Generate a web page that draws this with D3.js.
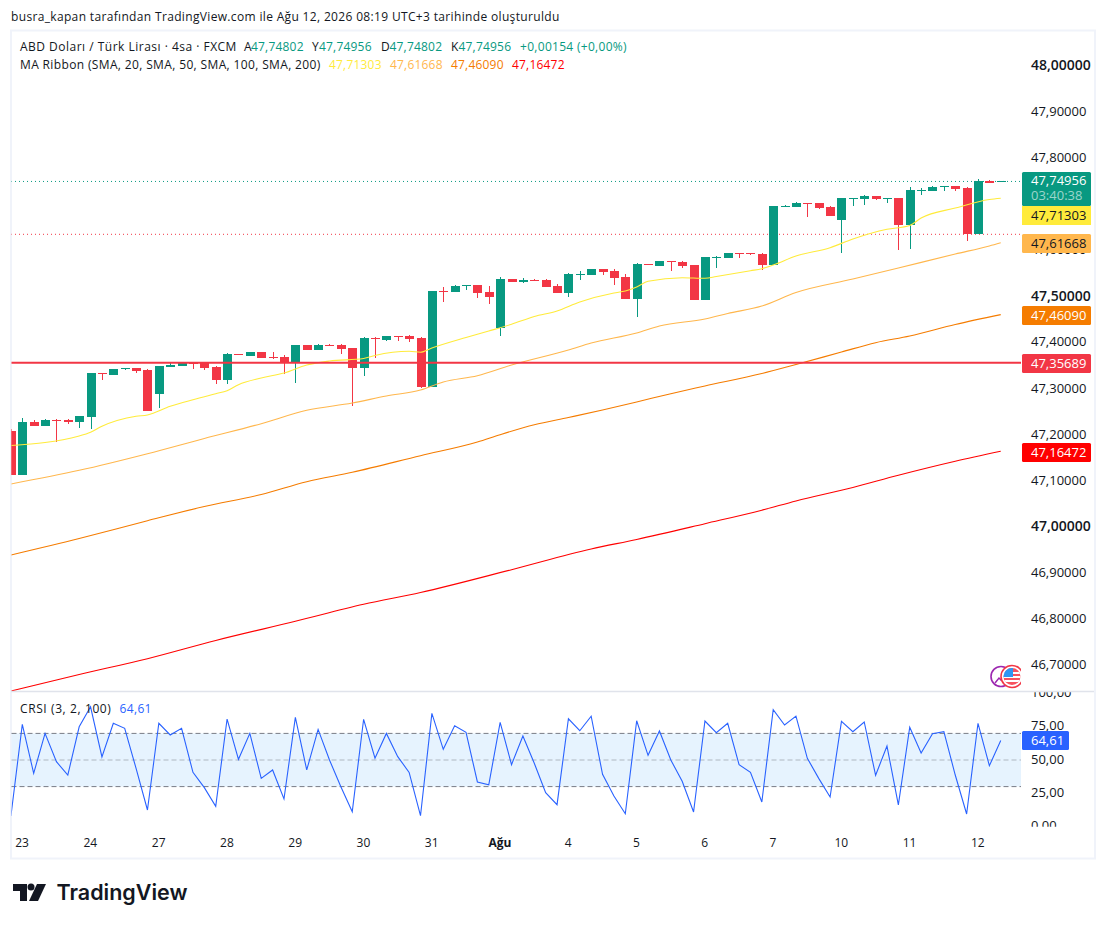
<!DOCTYPE html>
<html>
<head>
<meta charset="utf-8">
<script src="https://cdn.jsdelivr.net/npm/d3@7"></script>
<style>
html,body{margin:0;padding:0;background:#fff}
svg{display:block}
text{font-family:"Open Sans",sans-serif;font-size:12px;fill:#131722}
.domain{display:none}
</style>
</head>
<body>
<svg width="1106" height="925"></svg>
<script>
// bars start one before the "23" label, index -1
var opens = [47.2087,47.1134,47.2282,47.2195,47.2326,47.2326,47.2282,47.2391,47.3344,47.3301,47.3431,47.3453,47.3409,47.2889,47.3474,47.3496,47.3561,47.3561,47.3474,47.3192,47.3756,47.3713,47.3799,47.3691,47.3691,47.3561,47.3951,47.3843,47.3951,47.3951,47.3886,47.3453,47.4103,47.4059,47.4146,47.4146,47.4103,47.3041,47.5121,47.5099,47.5229,47.5251,47.5099,47.4319,47.5381,47.5316,47.5359,47.5359,47.5229,47.5078,47.5468,47.5468,47.5598,47.5555,47.5424,47.4948,47.5706,47.5663,47.5771,47.5750,47.5685,47.4926,47.5836,47.5836,47.5945,47.5945,47.5923,47.5685,47.6942,47.6942,47.7029,47.7029,47.6942,47.6661,47.7116,47.7116,47.7181,47.7116,47.7137,47.6552,47.7289,47.7289,47.7376,47.7397,47.7354,47.6356,47.7506,47.74802];
var highs = [47.2130,47.2369,47.2326,47.2347,47.2347,47.2347,47.2412,47.3344,47.3344,47.3431,47.3453,47.3453,47.3431,47.3496,47.3561,47.3583,47.3561,47.3561,47.3496,47.3778,47.3756,47.3799,47.3799,47.3799,47.3734,47.3951,47.3951,47.3973,47.3973,47.3973,47.3886,47.4124,47.4124,47.4146,47.4146,47.4168,47.4124,47.5121,47.5208,47.5251,47.5251,47.5251,47.5229,47.5424,47.5381,47.5403,47.5381,47.5381,47.5273,47.5511,47.5555,47.5598,47.5598,47.5598,47.5490,47.5728,47.5706,47.5771,47.5771,47.5771,47.5685,47.5858,47.5880,47.5945,47.5945,47.5945,47.5945,47.6964,47.6986,47.7051,47.7029,47.7029,47.6964,47.7137,47.7137,47.7202,47.7181,47.7137,47.7137,47.7376,47.7354,47.7397,47.7397,47.7397,47.7376,47.7549,47.7527,47.74956];
var lows = [47.1134,47.1134,47.2195,47.2195,47.1849,47.2239,47.2152,47.2130,47.3192,47.3301,47.3409,47.3344,47.2521,47.2586,47.3474,47.3496,47.3431,47.3409,47.3106,47.3106,47.3734,47.3713,47.3669,47.3648,47.3323,47.3127,47.3843,47.3843,47.3929,47.3756,47.2629,47.3279,47.3669,47.4038,47.4038,47.4016,47.3019,47.3041,47.4883,47.5099,47.5143,47.4969,47.4839,47.4146,47.5316,47.5294,47.5338,47.5208,47.5078,47.4991,47.5359,47.5468,47.5468,47.5251,47.4948,47.4558,47.5685,47.5663,47.5555,47.5620,47.4926,47.4926,47.5620,47.5836,47.5836,47.5901,47.5576,47.5685,47.6942,47.6942,47.6726,47.6899,47.6747,47.5945,47.6964,47.6986,47.7094,47.7029,47.6010,47.6031,47.7202,47.7289,47.7289,47.7289,47.6205,47.6356,47.7462,47.74802];
var closes = [47.1134,47.2282,47.2195,47.2326,47.2304,47.2282,47.2412,47.3344,47.3323,47.3431,47.3453,47.3388,47.2521,47.3496,47.3518,47.3561,47.3539,47.3453,47.3192,47.3756,47.3734,47.3799,47.3669,47.3669,47.3561,47.3951,47.3843,47.3951,47.3929,47.3864,47.3453,47.4103,47.4081,47.4146,47.4124,47.4081,47.3041,47.5121,47.5099,47.5229,47.5251,47.5078,47.4991,47.5381,47.5316,47.5359,47.5338,47.5208,47.5078,47.5490,47.5490,47.5598,47.5533,47.5403,47.4948,47.5706,47.5685,47.5771,47.5750,47.5663,47.4926,47.5858,47.5858,47.5945,47.5923,47.5923,47.5685,47.6964,47.6964,47.7029,47.7007,47.6921,47.6747,47.7137,47.7137,47.7181,47.7116,47.7137,47.6552,47.7311,47.7311,47.7376,47.7397,47.7332,47.6356,47.7506,47.7462,47.74956];
var crsi = [7.9,76.8,40,70,48.7,38.7,75,90,52.3,77.6,73.8,43.7,12.4,77.6,68.8,73.8,40.7,29.2,15.2,80.8,50.5,70,36.2,42.5,20.7,82.1,42.5,73,50,29.9,11.1,80.6,51.3,70,52.5,40.7,8.1,85.1,58,75.8,70.8,33.5,31.4,78.3,46.5,68,47.5,25.4,16.4,81,72,82.9,39.2,22.9,9.6,79.5,53.5,71.8,50,34,10.9,79.3,70.5,77.6,46.5,40.7,18.4,87.8,76.3,83,51.3,36.2,22.2,79,71.3,78.6,38.5,60.5,16.2,74.6,55.3,69.8,71.3,38.7,9.4,77.6,45.7,64.61];

var ma20Bars = [-1,5,6,7,10,11,13,15,17,18,19,21,23,25,27,30,31,34,35,36,39,41,43,45,47,49,52,53,54,55,58,60,61,64,65,66,68,71,73,76,78,79,82,85,86];
var ma20 = [47.1773,47.1979,47.2059,47.2189,47.2406,47.2434,47.2622,47.2765,47.2895,47.2960,47.3091,47.3236,47.3344,47.3517,47.3604,47.3658,47.3723,47.3814,47.3793,47.3886,47.4114,47.4254,47.4400,47.4569,47.4688,47.4883,47.5078,47.5121,47.5208,47.5332,47.5410,47.5397,47.5436,47.5561,47.5605,47.5685,47.5880,47.6060,47.6248,47.6459,47.6541,47.6703,47.6920,47.7104,47.71303];
var ma50Bars = [-1,5,11,16,21,25,29,32,35,37,40,43,48,50,54,56,60,62,65,68,73,77,82,85,86];
var ma50 = [47.0938,47.1235,47.1595,47.1925,47.2245,47.2536,47.2694,47.2846,47.2976,47.3149,47.3286,47.3517,47.3843,47.3994,47.4211,47.4363,47.4515,47.4634,47.4796,47.5089,47.5381,47.5620,47.5923,47.6097,47.61668];
var ma100Bars = [-1,5,11,16,21,25,29,35,40,42,45,48,51,54,57,60,65,68,72,75,78,82,86];
var ma100 = [46.9400,46.9757,47.0143,47.0451,47.0711,47.0988,47.1192,47.1552,47.1849,47.2007,47.2222,47.2380,47.2542,47.2716,47.2896,47.3062,47.3333,47.3528,47.3799,47.4001,47.4146,47.4395,47.46090];
var ma200Bars = [-1,5,11,17,24,30,35,43,50,54,60,65,68,73,77,82,86];
var ma200 = [46.6452,46.6810,46.7152,46.7547,46.7963,46.8331,46.8587,46.9081,46.9530,46.9736,47.0078,47.0371,47.0570,47.0863,47.1127,47.1430,47.16472];

// 47,70000 sits behind the last price labels in the original so it is left out
var priceTicks = [48,47.9,47.8,47.6,47.5,47.4,47.3,47.2,47.1,47,46.9,46.8,46.7];
var boldPrices = [48,47.5,47];
var crsiTicks = [100,75,50,25,0];
var dayBars = [0,6,12,18,24,30,36,42,48,54,60,66,72,78,84];
var dayNames = ["23","24","27","28","29","30","31","Ağu","4","5","6","7","10","11","12"];

var lastPrice = 47.74956, prevLevel = 47.635, hLine = 47.35689;
var colUp = "#089981", colDown = "#f23645", colBlue = "#2962ff";
var maColors = ["#ffeb3b","#ffb74d","#f57c00","#ff0000"];

var svg = d3.select("svg");
var x = d3.scaleLinear().domain([0,84]).range([22.3,978]);
var y = d3.scaleLinear().domain([46.7,48]).range([665.72,65.9]);
var yc = d3.scaleLinear().domain([0,100]).range([826.5,693.5]);
var fmt5 = d => d.toFixed(5).replace(".",","), fmt2 = d => d.toFixed(2).replace(".",",");

var defs = svg.append("defs");
defs.append("clipPath").attr("id","pricePane").append("rect").attr("x",11.5).attr("y",31).attr("width",1009.5).attr("height",660);
defs.append("clipPath").attr("id","crsiPane").append("rect").attr("x",11.5).attr("y",692).attr("width",1009.5).attr("height",140);
defs.append("clipPath").attr("id","crsiAxis").append("rect").attr("x",1022).attr("y",692.3).attr("width",72).attr("height",134.5);

// frame
svg.append("rect").attr("x",11).attr("y",30.5).attr("width",1084).attr("height",828).attr("fill","#fff").attr("stroke","#f0f3fa").attr("stroke-width",2);
svg.append("text").attr("x",11).attr("y",21).style("letter-spacing","0.34px").text("busra_kapan tarafından TradingView.com ile Ağu 12, 2026 08:19 UTC+3 tarihinde oluşturuldu");

// price pane
var pane = svg.append("g").attr("clip-path","url(#pricePane)");
var bars = d3.range(opens.length).map(i => ({bar:i-1,o:opens[i],h:highs[i],l:lows[i],c:closes[i]}));

pane.append("line").attr("x1",11).attr("x2",1021).attr("y1",y(lastPrice)).attr("y2",y(lastPrice))
    .attr("stroke",colUp).attr("stroke-dasharray","1 3");
pane.append("line").attr("x1",11).attr("x2",1021).attr("y1",y(prevLevel)).attr("y2",y(prevLevel))
    .attr("stroke",colDown).attr("stroke-dasharray","1 3");

var candle = pane.selectAll("g.c").data(bars).enter().append("g").attr("class","c")
    .attr("fill",d => d.c>=d.o ? colUp : colDown);
candle.append("rect").attr("shape-rendering","crispEdges")
    .attr("x",d => Math.round(x(d.bar))-0.5).attr("width",1)
    .attr("y",d => Math.round(y(d.h))).attr("height",d => Math.max(1,Math.round(y(d.l))-Math.round(y(d.h))));
candle.append("rect").attr("shape-rendering","crispEdges")
    .attr("x",d => Math.round(x(d.bar))-4.5).attr("width",9)
    .attr("y",d => Math.round(y(Math.max(d.o,d.c))))
    .attr("height",d => Math.max(1,Math.round(y(Math.min(d.o,d.c)))-Math.round(y(Math.max(d.o,d.c)))));

var line = d3.line().x(d => x(d[0])).y(d => y(d[1])).curve(d3.curveMonotoneX);
[[ma20Bars,ma20],[ma50Bars,ma50],[ma100Bars,ma100],[ma200Bars,ma200]].forEach(function(m,k){
    pane.append("path").datum(m[0].map((b,i) => [b,m[1][i]]))
        .attr("d",line).attr("fill","none").attr("stroke",maColors[k]).attr("stroke-width",1.1);
});

pane.append("line").attr("x1",11).attr("x2",1021).attr("y1",y(hLine)).attr("y2",y(hLine))
    .attr("stroke",colDown).attr("stroke-width",2);

// event icons
var icons = svg.append("g").attr("clip-path","url(#pricePane)");
icons.append("circle").attr("cx",1001).attr("cy",676.5).attr("r",10).attr("fill","#fff").attr("stroke","#9c27b0").attr("stroke-width",1.6);
icons.append("path").attr("d","M995 683l4-5 2 2 3-5").attr("fill","none").attr("stroke","#9c27b0").attr("stroke-width",1.5);
icons.append("circle").attr("cx",1012).attr("cy",676.5).attr("r",11).attr("fill","#fff").attr("stroke","#f23645").attr("stroke-width",1.6);
icons.append("clipPath").attr("id","flag").append("circle").attr("cx",1012).attr("cy",676.5).attr("r",8.5);
var flag = icons.append("g").attr("clip-path","url(#flag)");
flag.append("rect").attr("x",1003).attr("y",668).attr("width",18).attr("height",17).attr("fill","#f7525f");
[672,676,680].forEach(v => flag.append("rect").attr("x",1003).attr("y",v).attr("width",18).attr("height",2).attr("fill","#fff"));
flag.append("rect").attr("x",1003).attr("y",668).attr("width",10).attr("height",9).attr("fill","#2f96f3");

svg.append("line").attr("x1",11).attr("x2",1094).attr("y1",691.5).attr("y2",691.5).attr("stroke","#e0e3eb").attr("stroke-width",1.5);

// legend
var legendA = [[20,"ABD Doları / Türk Lirası · 4sa · FXCM","#131722",0.49],[244,"A","#131722",0],[251,"47,74802",colUp,0.2],[312,"Y","#131722",0],[319,"47,74956",colUp,0.2],[381,"D","#131722",0],[389.5,"47,74802",colUp,0.2],[451,"K","#131722",0],[458.5,"47,74956",colUp,0.2],[520,"+0,00154 (+0,00%)",colUp,0.3]];
var legendB = [[20,"MA Ribbon (SMA, 20, SMA, 50, SMA, 100, SMA, 200)","#131722",0.36],[329,"47,71303",maColors[0],0.2],[390,"47,61668",maColors[1],0.2],[451,"47,46090",maColors[2],0.2],[512,"47,16472",maColors[3],0.2]];
[[legendA,51],[legendB,69]].forEach(function(l){
    svg.append("g").selectAll("text").data(l[0]).enter().append("text")
        .attr("x",d => d[0]).attr("y",l[1]).style("fill",d => d[2]).style("letter-spacing",d => d[3]+"px").text(d => d[1]);
});

// price axis
var pAxis = svg.append("g").attr("transform","translate(1031,-1)")
    .call(d3.axisRight(y).tickValues(priceTicks).tickSize(0).tickPadding(0).tickFormat(fmt5));
pAxis.selectAll("text").style("font-size",d => boldPrices.includes(d) ? "14px" : "13px")
    .style("font-weight",d => boldPrices.includes(d) ? 600 : 400)
    .style("fill","#131722");

// price labels
var boxes = [
    {t:"47,74956",fill:colUp,c:"#fff",top:172,bottom:206},
    {t:"47,71303",fill:maColors[0],c:"#131722",top:206,bottom:225},
    {t:"47,61668",fill:maColors[1],c:"#131722",top:234,bottom:253},
    {t:"47,46090",fill:maColors[2],c:"#fff",top:306,bottom:325},
    {t:"47,35689",fill:colDown,c:"#fff",top:354,bottom:373},
    {t:"47,16472",fill:maColors[3],c:"#fff",top:443,bottom:462}
];
boxes.forEach(function(b,i){
    svg.append("rect").attr("x",1022).attr("y",b.top).attr("width",69).attr("height",b.bottom-b.top).attr("rx",i==1?0:1.5).attr("fill",b.fill);
    svg.append("text").attr("x",1031).attr("y",i==0 ? 185 : Math.round((b.top+b.bottom)/2)+3.5).style("fill",b.c).style("font-size","13px").text(b.t);
});
svg.append("text").attr("x",1031).attr("y",200).style("fill","rgba(255,255,255,.6)").style("font-size","13px").text("03:40:38");

// CRSI pane
svg.append("rect").attr("x",11.5).attr("width",1009.5).attr("y",yc(70)).attr("height",yc(30)-yc(70)).attr("fill","#e6f3fe");
[[70,1],[50,0.5],[30,1]].forEach(function(r){
    svg.append("line").attr("x1",11.5).attr("x2",1021).attr("y1",yc(r[0])).attr("y2",yc(r[0]))
        .attr("stroke","#787b86").attr("stroke-opacity",r[1]).attr("stroke-dasharray","5 3");
});
svg.append("g").attr("clip-path","url(#crsiPane)").append("path").datum(crsi)
    .attr("d",d3.line().x((d,i) => x(i-1)).y(d => yc(d)))
    .attr("fill","none").attr("stroke",colBlue).attr("stroke-width",1.1);
svg.append("text").attr("x",20).attr("y",712.5).style("letter-spacing","0.6px").text("CRSI (3, 2, 100)");
svg.append("text").attr("x",119.5).attr("y",712.5).style("fill",colBlue).style("letter-spacing","0.35px").text("64,61");

var cAxis = svg.append("g").attr("clip-path","url(#crsiAxis)").append("g").attr("transform","translate(1031,-1)")
    .call(d3.axisRight(yc).tickValues(crsiTicks).tickSize(0).tickPadding(0).tickFormat(fmt2));
cAxis.selectAll("text").style("font-size","13px").style("fill","#131722");
svg.append("rect").attr("x",1022).attr("y",731).attr("width",47).attr("height",19).attr("rx",1.5).attr("fill",colBlue);
svg.append("text").attr("x",1031).attr("y",745).style("fill","#fff").style("font-size","13px").text("64,61");

// time axis
var tAxis = svg.append("g").attr("transform","translate(-0.7,838)")
    .call(d3.axisBottom(x).tickValues(dayBars).tickSize(0).tickPadding(0).tickFormat((d,i) => dayNames[i]));
tAxis.selectAll("text").style("font-size","12px").style("fill","#131722")
    .style("font-weight",d => d==42 ? 700 : 400);

// logo
var logo = svg.append("g").attr("fill","#131722");
logo.append("path").attr("d","M13 884H27V901H20V891H13Z");
logo.append("circle").attr("cx",31).attr("cy",887).attr("r",3.5);
logo.append("path").attr("d","M37 884H46L38 901H29Z");
svg.append("text").attr("x",56.5).attr("y",900).style("font-family","Inter").style("font-size","21.5px").style("font-weight",600).text("TradingView");
</script>
</body>
</html>
